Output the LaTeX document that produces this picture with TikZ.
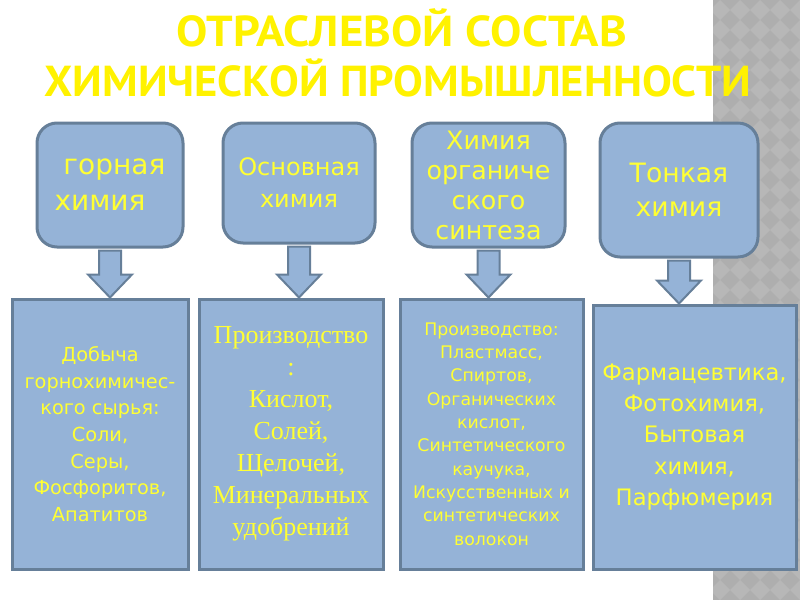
\documentclass[tikz,border=0pt]{standalone}
\usepackage{fontspec}
\usepackage{graphicx}
\setmainfont{DejaVu Sans}
\newfontfamily\titlefont{PT Sans}
\newfontfamily\russerif{Liberation Serif}
\usetikzlibrary{calc}

\definecolor{boxblue}{HTML}{95B3D7}
\definecolor{boxline}{HTML}{667F99}
\definecolor{txtyellow}{HTML}{FFFF33}
\definecolor{stripA}{HTML}{AEAEAE}
\definecolor{stripB}{HTML}{B7B7B7}

\newlength\px
\setlength\px{0.75pt}

% block arrow from upper box #1 down to lower box #2
\newcommand\blockdown[2]{%
  \draw[blockarr] ($(#1.south)+(-11,2)$) -- ($(#1.south |- #2.north)+(-11,-23)$)
    -- ++(-11,0) -- (#1.south |- #2.north) -- ($(#1.south |- #2.north)+(22,-23)$)
    -- ++(-11,0) -- ($(#1.south)+(11,2)$) -- cycle;}

\begin{document}
\begin{tikzpicture}[x=0.75pt, y=-0.75pt,
    topbox/.style={draw=boxline, fill=boxblue, line width=2.25pt, rounded corners=20\px,
      text=txtyellow, align=center, inner sep=0pt},
    lowbox/.style={draw=boxline, fill=boxblue, line width=2.25pt,
      text=txtyellow, align=center, inner sep=0pt},
    blockarr/.style={draw=boxline, fill=boxblue, line width=1.5pt, line join=miter},
    titletext/.style={text=yellow, font=\titlefont\bfseries\fontsize{32.5}{40}\selectfont, anchor=base, inner sep=0pt}]
  \useasboundingbox (0,0) rectangle (800,600);
  \fill[white] (0,0) rectangle (800,600);

  % grey strip on the right
  \begin{scope}
    \fill[stripA] (713,0) rectangle (800,600);
    \clip (713,0) rectangle (800,600);
    \foreach \i in {0,...,5}
      \foreach \j in {-1,...,30}
        \fill[stripB] (700+20*\i,20*\j) -- ++(10,10) -- ++(-10,10) -- ++(-10,-10) -- cycle;
  \end{scope}

  % title
  \node[titletext] (title1) at (402,46) {\resizebox{450\px}{\height}{ОТРАСЛЕВОЙ СОСТАВ}};
  \node[titletext] (title2) at (398,96) {\resizebox{707\px}{\height}{ХИМИЧЕСКОЙ ПРОМЫШЛЕННОСТИ}};

  % upper boxes
  \node[topbox, minimum width=146\px, minimum height=124\px, align=left,
    font=\fontsize{21}{27}\selectfont] (gornaya) at (110,185) {\ горная\\химия};
  \node[topbox, minimum width=152\px, minimum height=120\px,
    font=\fontsize{18}{24}\selectfont] (osnovnaya) at (299,183) {Основная\\химия};
  \node[topbox, minimum width=153\px, minimum height=124\px,
    font=\fontsize{19}{22.5}\selectfont] (organich) at (488.5,185) {Химия\\органиче\\ского\\синтеза};
  \node[topbox, minimum width=158\px, minimum height=134\px,
    font=\fontsize{20}{25.5}\selectfont] (tonkaya) at (679,190) {Тонкая\\химия};

  % lower boxes
  \node[lowbox, minimum width=176\px, minimum height=270\px,
    font=\fontsize{14.5}{20}\selectfont] (dobycha) at (100,434)
    {Добыча\\горнохимичес-\\кого сырья:\\Соли,\\Серы,\\Фосфоритов,\\Апатитов};
  \node[lowbox, minimum width=184\px, minimum height=270\px,
    font=\russerif\fontsize{19.5}{24}\selectfont] (proizv) at (291,434)
    {Производство\\:\\Кислот,\\Солей,\\Щелочей,\\Минеральных\\удобрений};
  \node[lowbox, minimum width=183\px, minimum height=270\px,
    font=\fontsize{13}{17.5}\selectfont] (plastmass) at (491.5,434)
    {Производство:\\Пластмасс,\\Спиртов,\\Органических\\кислот,\\Синтетического\\каучука,\\Искусственных и\\синтетических\\волокон};
  \node[lowbox, minimum width=203\px, minimum height=264\px,
    font=\fontsize{17}{23.5}\selectfont] (farma) at (694.5,437)
    {Фармацевтика,\\Фотохимия,\\Бытовая\\химия,\\Парфюмерия};

  % arrows
  \blockdown{gornaya}{dobycha}
  \blockdown{osnovnaya}{proizv}
  \blockdown{organich}{plastmass}
  \blockdown{tonkaya}{farma}
\end{tikzpicture}
\end{document}
